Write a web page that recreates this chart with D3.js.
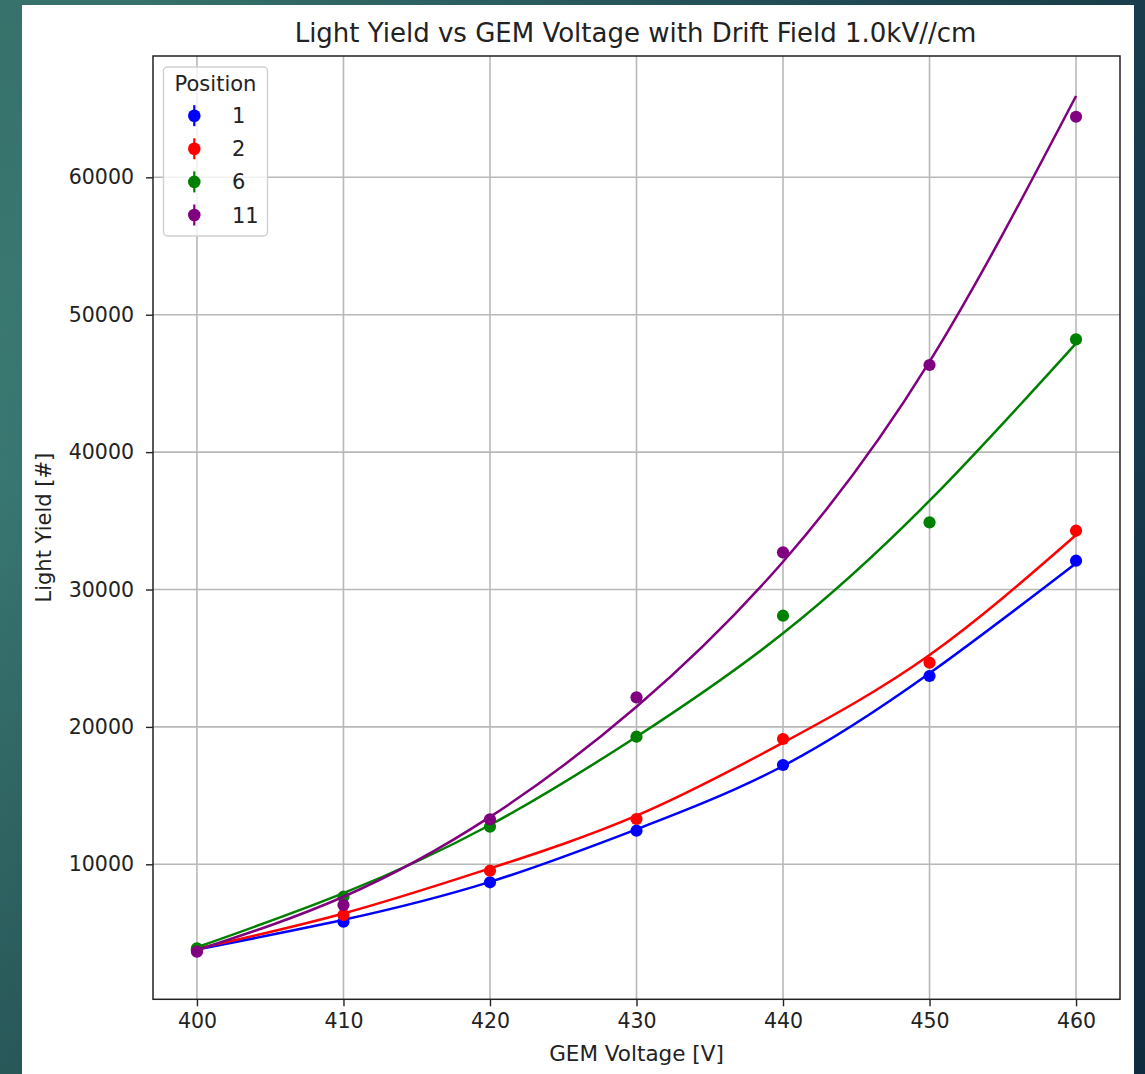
<!DOCTYPE html>
<html>
<head>
<meta charset="utf-8">
<script src="https://cdn.jsdelivr.net/npm/d3@7"></script>
<style>
  html, body { margin: 0; padding: 0; background: #1d4a55; }
  svg { display: block; }
  text { font-family: "DejaVu Sans", sans-serif; fill: #222; }
</style>
</head>
<body>
<svg id="chart" width="1145" height="1074"></svg>
<script>
// GEM voltage settings (V)
const voltages = [400, 410, 420, 430, 440, 450, 460];

// Measured light yield per position
const pos1  = [3750, 5822, 8690, 12446, 17227, 23705, 32096];
const pos2  = [3800, 6310, 9534, 13297, 19119, 24672, 34280];
const pos6  = [3890, 7642, 12737, 19287, 28093, 34891, 48210];
const pos11 = [3640, 7038, 13275, 22154, 32707, 46339, 64410];

// Fitted curve values at the same voltages
const fit1  = [3800, 5960, 8720, 12547, 17155, 23901, 31907];
const fit2  = [3850, 6420, 9700, 13537, 18850, 25232, 33966];
const fit6  = [3960, 7900, 12860, 19287, 26812, 36463, 47919];
const fit11 = [3750, 7640, 13450, 21470, 32024, 46580, 65917];

const positionLabels = ["1", "2", "6", "11"];
const seriesColors = ["#0000ff", "#ff0000", "#008000", "#800080"];

const xTicks = [400, 410, 420, 430, 440, 450, 460];
const yTicks = [10000, 20000, 30000, 40000, 50000, 60000];

const series = [
  { label: positionLabels[0], color: seriesColors[0], pts: pos1,  fit: fit1 },
  { label: positionLabels[1], color: seriesColors[1], pts: pos2,  fit: fit2 },
  { label: positionLabels[2], color: seriesColors[2], pts: pos6,  fit: fit6 },
  { label: positionLabels[3], color: seriesColors[3], pts: pos11, fit: fit11 }
];

const svg = d3.select("#chart");
const W = 1145, H = 1074;

// slide background
const defs = svg.append("defs");
const bg = defs.append("linearGradient").attr("id", "bg")
  .attr("x1", "0").attr("y1", "0.3").attr("x2", "1").attr("y2", "0.7");
bg.append("stop").attr("offset", "0").attr("stop-color", "#3b7b74");
bg.append("stop").attr("offset", "0.5").attr("stop-color", "#24525c");
bg.append("stop").attr("offset", "1").attr("stop-color", "#12334a");
const bgv = defs.append("linearGradient").attr("id", "bgv")
  .attr("x1", "0").attr("y1", "0").attr("x2", "0").attr("y2", "1");
bgv.append("stop").attr("offset", "0").attr("stop-color", "#000").attr("stop-opacity", 0.08);
bgv.append("stop").attr("offset", "0.45").attr("stop-color", "#000").attr("stop-opacity", 0);
bgv.append("stop").attr("offset", "1").attr("stop-color", "#000").attr("stop-opacity", 0.15);
svg.append("rect").attr("width", W).attr("height", H).attr("fill", "url(#bg)");
svg.append("rect").attr("width", W).attr("height", H).attr("fill", "url(#bgv)");

// white figure panel
svg.append("rect").attr("x", 22).attr("y", 5).attr("width", 1112).attr("height", H - 5)
  .attr("fill", "#ffffff");

// plot area
const plotLeft = 153, plotRight = 1120, plotTop = 56, plotBottom = 999.3;

const x = d3.scaleLinear().domain([397, 463]).range([plotLeft, plotRight]);
const y = d3.scaleLinear().domain([175, 68830]).range([plotBottom, plotTop]);

// grid
const grid = svg.append("g");
grid.selectAll("line.gx").data(xTicks).join("line")
  .attr("class", "gx")
  .attr("x1", d => x(d)).attr("x2", d => x(d))
  .attr("y1", plotTop).attr("y2", plotBottom)
  .attr("stroke", "#b8b8b8").attr("stroke-width", 1.6);
grid.selectAll("line.gy").data(yTicks).join("line")
  .attr("class", "gy")
  .attr("y1", d => y(d)).attr("y2", d => y(d))
  .attr("x1", plotLeft).attr("x2", plotRight)
  .attr("stroke", "#b8b8b8").attr("stroke-width", 1.6);

// data and fits
const line = d3.line()
  .x((d, i) => x(voltages[i]))
  .y(d => y(d))
  .curve(d3.curveNatural);

const plot = svg.append("g");
series.forEach(s => {
  plot.append("g").selectAll("circle").data(s.pts).join("circle")
    .attr("cx", (d, i) => x(voltages[i]))
    .attr("cy", d => y(d))
    .attr("r", 6.1)
    .attr("fill", s.color);
  plot.append("path").datum(s.fit)
    .attr("d", line)
    .attr("fill", "none")
    .attr("stroke", s.color)
    .attr("stroke-width", 2.5);
});

// axes
const xAxis = d3.axisBottom(x).tickValues(xTicks).tickSize(7).tickPadding(7)
  .tickFormat(d3.format("d"));
const yAxis = d3.axisLeft(y).tickValues(yTicks).tickSize(7).tickPadding(12)
  .tickFormat(d3.format("d"));

const gx = svg.append("g").attr("transform", `translate(0,${plotBottom})`).call(xAxis);
const gy = svg.append("g").attr("transform", `translate(${plotLeft},0)`).call(yAxis);
[gx, gy].forEach(g => {
  g.select(".domain").remove();
  g.selectAll(".tick line").attr("stroke", "#222").attr("stroke-width", 1.4);
  g.selectAll(".tick text").attr("fill", "#222")
    .style("font-family", "'DejaVu Sans', sans-serif").style("font-size", "20.5px");
});

// frame
svg.append("rect").attr("x", plotLeft).attr("y", plotTop)
  .attr("width", plotRight - plotLeft).attr("height", plotBottom - plotTop)
  .attr("fill", "none").attr("stroke", "#222").attr("stroke-width", 1.5);

// titles
svg.append("text").attr("x", (plotLeft + plotRight) / 2 - 1).attr("y", 42)
  .attr("text-anchor", "middle").style("font-size", "26px")
  .text("Light Yield vs GEM Voltage with Drift Field 1.0kV//cm");
svg.append("text").attr("x", (plotLeft + plotRight) / 2).attr("y", 1061)
  .attr("text-anchor", "middle").style("font-size", "21.5px")
  .text("GEM Voltage [V]");
svg.append("text")
  .attr("transform", `translate(51,${(plotTop + plotBottom) / 2}) rotate(-90)`)
  .attr("text-anchor", "middle").style("font-size", "21px")
  .text("Light Yield [#]");

// legend
const lg = svg.append("g");
lg.append("rect").attr("x", 163.5).attr("y", 67).attr("width", 104).attr("height", 169)
  .attr("rx", 4).attr("fill", "#fff").attr("fill-opacity", 0.8)
  .attr("stroke", "#d0d0d0").attr("stroke-width", 1.4);
lg.append("text").attr("x", 215.5).attr("y", 83.5).attr("dy", "0.36em")
  .attr("text-anchor", "middle").style("font-size", "21px").text("Position");
series.forEach((s, i) => {
  const cy = 115.7 + i * 33.1;
  lg.append("line").attr("x1", 194.3).attr("x2", 194.3)
    .attr("y1", cy - 10.5).attr("y2", cy + 10.5)
    .attr("stroke", s.color).attr("stroke-width", 2.2);
  lg.append("circle").attr("cx", 194.3).attr("cy", cy).attr("r", 6.3).attr("fill", s.color);
  lg.append("text").attr("x", 232).attr("y", cy).attr("dy", "0.36em")
    .style("font-size", "21px").text(s.label);
});
</script>
</body>
</html>
